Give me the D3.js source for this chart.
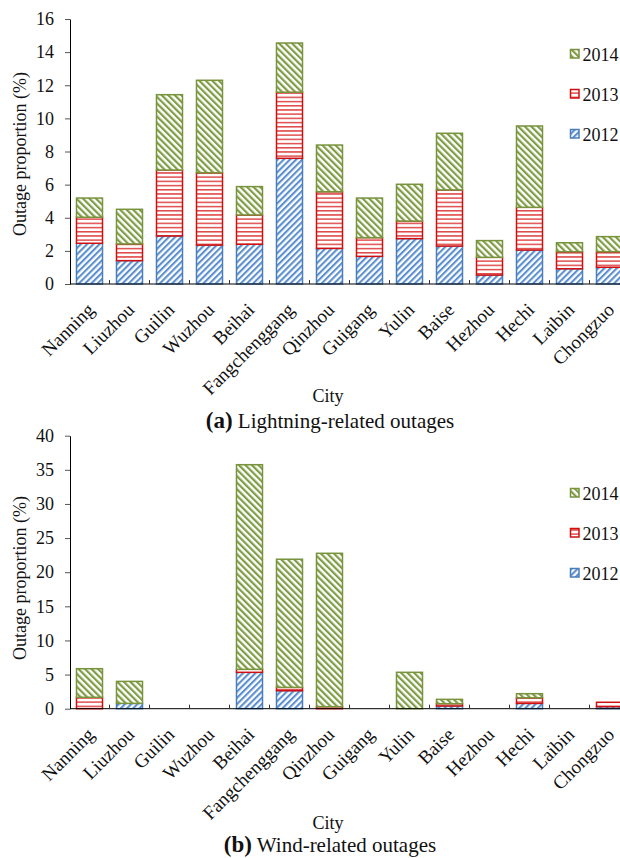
<!DOCTYPE html>
<html>
<head>
<meta charset="utf-8">
<script src="https://cdn.jsdelivr.net/npm/d3@7"></script>
<style>
  body { margin: 0; background: #fff; }
  svg { display: block; }
  svg text { font-family: "Liberation Serif", "Times New Roman", serif !important; }
</style>
</head>
<body>
<div id="chart"></div>
<script>
// data (segment heights, %)
const cities = ['Nanning', 'Liuzhou', 'Guilin', 'Wuzhou', 'Beihai', 'Fangchenggang', 'Qinzhou',
  'Guigang', 'Yulin', 'Baise', 'Hezhou', 'Hechi', 'Laibin', 'Chongzuo'];
const years = ['2012', '2013', '2014'];

const lightning2012 = [2.46, 1.41, 2.90, 2.35, 2.40, 7.59, 2.15, 1.67, 2.74, 2.29, 0.54, 2.05, 0.92, 1.01];
const lightning2013 = [1.57, 1.01, 3.98, 4.37, 1.77, 3.99, 3.42, 1.13, 1.06, 3.39, 1.07, 2.58, 1.03, 0.94];
const lightning2014 = [1.16, 2.09, 4.55, 5.58, 1.71, 2.97, 2.82, 2.39, 2.22, 3.42, 1.01, 4.91, 0.54, 0.91];

const wind2012 = [0, 0.78, 0, 0, 5.33, 2.64, 0, 0, 0, 0.40, 0, 0.78, 0, 0.30];
const wind2013 = [1.67, 0, 0, 0, 0.44, 0.49, 0.30, 0, 0, 0.33, 0, 0.82, 0, 0.64];
const wind2014 = [4.19, 3.22, 0, 0, 29.98, 18.77, 22.47, 0, 5.33, 0.64, 0, 0.60, 0, 0];

const lightningTicks = [0, 2, 4, 6, 8, 10, 12, 14, 16];
const windTicks = [0, 5, 10, 15, 20, 25, 30, 35, 40];

const W = 620, H = 858;
const colors = { '2012': '#4a7ebb', '2013': '#d01010', '2014': '#77933c' };
const stripe = { '2012': '#5b8fd0', '2013': '#e04848', '2014': '#7f9c44' };

const svg = d3.select('#chart').append('svg')
  .attr('width', W)
  .attr('height', H);

// hatch patterns
const defs = svg.append('defs');
function hatch(id, color, angle, period, lw) {
  const p = defs.append('pattern')
    .attr('id', id)
    .attr('patternUnits', 'userSpaceOnUse')
    .attr('width', period)
    .attr('height', period)
    .attr('patternTransform', `rotate(${angle})`);
  p.append('rect').attr('width', period).attr('height', period).attr('fill', '#fff');
  p.append('rect').attr('x', 0).attr('y', 0).attr('width', lw).attr('height', period).attr('fill', color);
}
hatch('p2012', stripe['2012'], 45, 4.4, 2.1);
hatch('p2013', stripe['2013'], 90, 4.2, 1.5);
hatch('p2014', stripe['2014'], -45, 4.6, 2.2);

const x = d3.scaleBand()
  .domain(cities)
  .range([69.5, 629.5])
  .paddingInner(0.35)
  .paddingOuter(0.175);

function drawPanel(cfg) {
  const y = d3.scaleLinear().domain(cfg.domain).range([cfg.y0, cfg.y1]);
  const g = svg.append('g');

  const table = cities.map((c, i) => ({ city: c, '2012': cfg.s2012[i], '2013': cfg.s2013[i], '2014': cfg.s2014[i] }));
  const stacked = d3.stack().keys(years)(table);

  stacked.forEach(layer => {
    g.append('g')
      .selectAll('rect')
      .data(layer.filter(d => d[1] - d[0] > 0))
      .join('rect')
      .attr('x', d => x(d.data.city))
      .attr('width', x.bandwidth())
      .attr('y', d => y(d[1]))
      .attr('height', d => y(d[0]) - y(d[1]))
      .attr('fill', `url(#p${layer.key})`)
      .attr('stroke', colors[layer.key])
      .attr('stroke-width', 1.5);
  });

  // y axis
  const yAxis = g.append('g')
    .attr('transform', 'translate(70,0)')
    .call(d3.axisLeft(y).tickValues(cfg.ticks).tickSize(5).tickSizeOuter(0).tickPadding(11));
  yAxis.select('.domain').attr('stroke', '#000');
  yAxis.selectAll('.tick line').attr('stroke', '#555');
  yAxis.selectAll('text').attr('fill', '#111').style('font-size', '18px');

  // x axis
  const xAxis = g.append('g')
    .attr('transform', `translate(0,${cfg.y0})`)
    .call(d3.axisBottom(x).tickSize(0).tickSizeOuter(0));
  xAxis.select('.domain').attr('stroke', '#000').attr('d', `M70,0H${W + 20}`);
  xAxis.selectAll('text')
    .attr('fill', '#111')
    .attr('x', 0).attr('y', 0).attr('dy', 0)
    .style('font-size', '19px')
    .style('text-anchor', 'end')
    .attr('transform', 'translate(6,27) rotate(-45)');

  // category boundary ticks (pointing up)
  const step = x.step();
  const bounds = cities.map(c => x(c) - (step - x.bandwidth()) / 2).slice(1)
    .concat([x(cities[cities.length - 1]) + x.bandwidth() + (step - x.bandwidth()) / 2]);
  g.append('g').selectAll('line')
    .data(bounds)
    .join('line')
    .attr('x1', d => d).attr('x2', d => d)
    .attr('y1', cfg.y0).attr('y2', cfg.y0 - 4)
    .attr('stroke', '#333');

  // y axis title
  g.append('text')
    .attr('transform', `translate(26,${cfg.titleY}) rotate(-90)`)
    .attr('text-anchor', 'middle')
    .style('font-size', '18px')
    .attr('fill', '#111')
    .text('Outage proportion (%)');

  // x axis title
  g.append('text')
    .attr('x', 328).attr('y', cfg.cityY)
    .attr('text-anchor', 'middle')
    .style('font-size', '18px')
    .attr('fill', '#111')
    .text('City');

  // caption
  const cap = g.append('text')
    .attr('x', 330).attr('y', cfg.capY)
    .attr('text-anchor', 'middle')
    .attr('fill', '#111');
  cap.append('tspan').style('font-weight', 'bold').style('font-size', '23px').text(cfg.tag);
  cap.append('tspan').style('font-size', '21px').text(' ' + cfg.caption);

  // legend
  const leg = g.append('g');
  ['2014', '2013', '2012'].forEach((k, i) => {
    const cy = cfg.legY[i];
    leg.append('rect')
      .attr('x', 570.5).attr('y', cy - 4.5)
      .attr('width', 8.5).attr('height', 8.5)
      .attr('fill', `url(#p${k})`)
      .attr('stroke', colors[k])
      .attr('stroke-width', 1.5);
    leg.append('text')
      .attr('x', 582.5).attr('y', cy + 6.5)
      .style('font-size', '18px')
      .attr('fill', '#111')
      .text(k);
  });
}

drawPanel({
  domain: [0, 16], ticks: lightningTicks, y0: 284, y1: 19,
  s2012: lightning2012, s2013: lightning2013, s2014: lightning2014,
  titleY: 154, cityY: 402, capY: 428, tag: '(a)', caption: 'Lightning-related outages',
  legY: [54, 94, 134]
});

drawPanel({
  domain: [0, 40], ticks: windTicks, y0: 708.7, y1: 435.7,
  s2012: wind2012, s2013: wind2013, s2014: wind2014,
  titleY: 578, cityY: 829, capY: 852, tag: '(b)', caption: 'Wind-related outages',
  legY: [493, 533, 573]
});
</script>
</body>
</html>
